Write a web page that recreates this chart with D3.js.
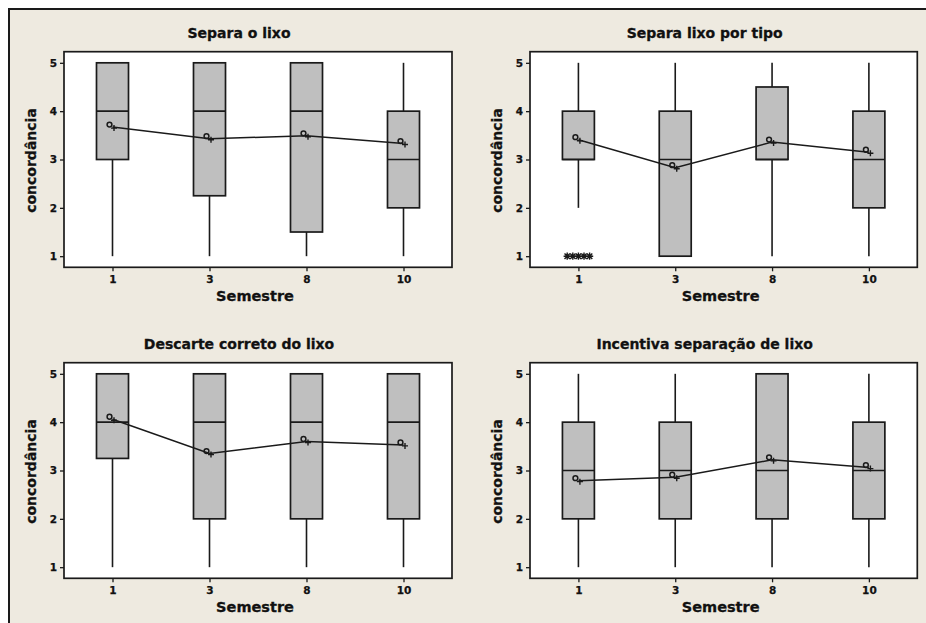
<!DOCTYPE html>
<html>
<head>
<meta charset="utf-8">
<script src="https://cdn.jsdelivr.net/npm/d3@7"></script>
<style>
  html, body { margin: 0; padding: 0; background: #ffffff; }
  svg { display: block; }
  text { font-family: "DejaVu Sans", Verdana, sans-serif; font-weight: bold; fill: #111; }
</style>
</head>
<body>
<svg id="chart" width="926" height="623"></svg>
<script>
// Semester groups on the x axis
const semesters = ["1", "3", "8", "10"];
const yTicks = [1, 2, 3, 4, 5];

const panelTitles = [
  "Separa o lixo",
  "Separa lixo por tipo",
  "Descarte correto do lixo",
  "Incentiva separação de lixo"
];

// Box summaries per semester: [lower whisker, Q1, median, Q3, upper whisker]
const separaOLixo        = [[1, 3, 4, 5, 5], [1, 2.25, 4, 5, 5], [1, 1.5, 4, 5, 5], [1, 2, 3, 4, 5]];
const separaPorTipo      = [[2, 3, 3, 4, 5], [1, 1, 3, 4, 5], [1, 3, 3, 4.5, 5], [1, 2, 3, 4, 5]];
const descarteCorreto    = [[1, 3.25, 4, 5, 5], [1, 2, 4, 5, 5], [1, 2, 4, 5, 5], [1, 2, 4, 5, 5]];
const incentivaSeparacao = [[1, 2, 3, 4, 5], [1, 2, 3, 4, 5], [1, 2, 3, 5, 5], [1, 2, 3, 4, 5]];

// Mean per semester (connected by the mean line)
const separaOLixoMean        = [3.67, 3.43, 3.49, 3.33];
const separaPorTipoMean      = [3.41, 2.83, 3.36, 3.15];
const descarteCorretoMean    = [4.06, 3.35, 3.60, 3.53];
const incentivaSeparacaoMean = [2.79, 2.86, 3.22, 3.06];

// Outlying answers per semester
const separaPorTipoOutliers = [[1, 1, 1, 1, 1], [], [], []];
const noOutliers = [[], [], [], []];

const panelBoxes    = [separaOLixo, separaPorTipo, descarteCorreto, incentivaSeparacao];
const panelMeans    = [separaOLixoMean, separaPorTipoMean, descarteCorretoMean, incentivaSeparacaoMean];
const panelOutliers = [noOutliers, separaPorTipoOutliers, noOutliers, noOutliers];

const svg = d3.select("#chart");

// page background with frame
svg.append("rect").attr("x", 0).attr("y", 0).attr("width", 926).attr("height", 623).attr("fill", "#ffffff");
svg.append("rect").attr("x", 9).attr("y", 9).attr("width", 930).attr("height", 630)
  .attr("fill", "#eeeae0").attr("stroke", "#1a1a1a").attr("stroke-width", 2);

// plot rectangles: [left, top, width, height]
const plotRects = [
  [64, 51.7, 388, 215.6],
  [530, 51.7, 387.3, 215.6],
  [64, 362.7, 388, 215.6],
  [530, 362.7, 387.3, 215.6]
];

const ink = "#1a1a1a";

panelTitles.forEach((title, p) => {
  const [L, T, W, H] = plotRects[p];
  const g = svg.append("g").attr("transform", `translate(${L},${T})`);

  const x = d3.scalePoint().domain(semesters).range([0, W]).padding(0.5);
  const y = d3.scaleLinear().domain([0.77, 5.23]).range([H, 0]);
  const boxW = x.step() * 0.33;

  g.append("rect").attr("width", W).attr("height", H)
    .attr("fill", "#ffffff").attr("stroke", ink).attr("stroke-width", 1.7);

  // axes
  const yAxis = d3.axisLeft(y).tickValues(yTicks).tickSize(4).tickPadding(3).tickFormat(d3.format("d"));
  const ya = g.append("g").call(yAxis);
  const xAxis = d3.axisBottom(x).tickSize(4).tickPadding(4);
  const xa = g.append("g").attr("transform", `translate(0,${H})`).call(xAxis);
  [ya, xa].forEach(a => {
    a.select(".domain").remove();
    a.selectAll(".tick line").attr("stroke", ink).attr("stroke-width", 1.3);
    a.selectAll(".tick text").style("font-size", "10.5px").attr("fill", "#111")
      .attr("stroke", "#111").attr("stroke-width", 0.25);
  });

  // titles
  g.append("text").attr("x", W / 2 - 19).attr("y", -18.7).attr("text-anchor", "middle")
    .attr("dominant-baseline", "central").style("font-size", "14px")
    .attr("stroke", "#111").attr("stroke-width", 0.3).text(title);
  g.append("text").attr("x", W / 2 - 3).attr("y", H + 29).attr("text-anchor", "middle")
    .attr("dominant-baseline", "central").style("font-size", "14.5px")
    .attr("stroke", "#111").attr("stroke-width", 0.3).text("Semestre");
  g.append("text").attr("transform", `translate(-33,${H / 2 + 1}) rotate(-90)`)
    .attr("text-anchor", "middle").attr("dominant-baseline", "central")
    .style("font-size", "14px").attr("stroke", "#111").attr("stroke-width", 0.3).text("concordância");

  const boxes = panelBoxes[p];
  const groups = g.selectAll("g.box").data(semesters).enter().append("g").attr("class", "box");

  // whiskers
  groups.append("line")
    .attr("x1", d => x(d)).attr("x2", d => x(d))
    .attr("y1", (d, i) => y(boxes[i][4])).attr("y2", (d, i) => y(boxes[i][3]))
    .attr("stroke", ink).attr("stroke-width", 1.6);
  groups.append("line")
    .attr("x1", d => x(d)).attr("x2", d => x(d))
    .attr("y1", (d, i) => y(boxes[i][1])).attr("y2", (d, i) => y(boxes[i][0]))
    .attr("stroke", ink).attr("stroke-width", 1.6);

  // boxes
  groups.append("rect")
    .attr("x", d => x(d) - boxW / 2).attr("width", boxW)
    .attr("y", (d, i) => y(boxes[i][3]))
    .attr("height", (d, i) => y(boxes[i][1]) - y(boxes[i][3]))
    .attr("fill", "#bfbfbf").attr("stroke", ink).attr("stroke-width", 1.7);

  // medians
  groups.append("line")
    .attr("x1", d => x(d) - boxW / 2).attr("x2", d => x(d) + boxW / 2)
    .attr("y1", (d, i) => y(boxes[i][2])).attr("y2", (d, i) => y(boxes[i][2]))
    .attr("stroke", ink).attr("stroke-width", 1.7);

  // mean connect line
  const means = panelMeans[p];
  const line = d3.line().x(d => x(d[0])).y(d => y(d[1]));
  g.append("path").datum(semesters.map((s, i) => [s, means[i]]))
    .attr("d", line).attr("fill", "none").attr("stroke", ink).attr("stroke-width", 1.5);

  // mean symbols: small circle with a cross
  semesters.forEach((s, i) => {
    const cx = x(s), cy = y(means[i]);
    g.append("circle").attr("cx", cx - 3).attr("cy", cy - 2.5).attr("r", 2.4)
      .attr("fill", "none").attr("stroke", ink).attr("stroke-width", 1.5);
    g.append("path").attr("d", `M${cx + 1.5},${cy - 2}V${cy + 4}M${cx - 1.5},${cy + 1}H${cx + 4.5}`)
      .attr("stroke", ink).attr("stroke-width", 1.4);
  });

  // outliers drawn as asterisks, spread sideways around the group centre
  panelOutliers[p].forEach((vals, i) => {
    const n = vals.length;
    vals.forEach((v, k) => {
      const cx = x(semesters[i]) + (k - (n - 1) / 2) * 5.6;
      const cy = y(v);
      const r = 3.6, r2 = 2.7;
      g.append("path")
        .attr("d", `M${cx},${cy - r}V${cy + r}M${cx - r},${cy}H${cx + r}` +
                   `M${cx - r2},${cy - r2}L${cx + r2},${cy + r2}M${cx - r2},${cy + r2}L${cx + r2},${cy - r2}`)
        .attr("stroke", ink).attr("stroke-width", 1.4).attr("fill", "none");
    });
  });
});
</script>
</body>
</html>
